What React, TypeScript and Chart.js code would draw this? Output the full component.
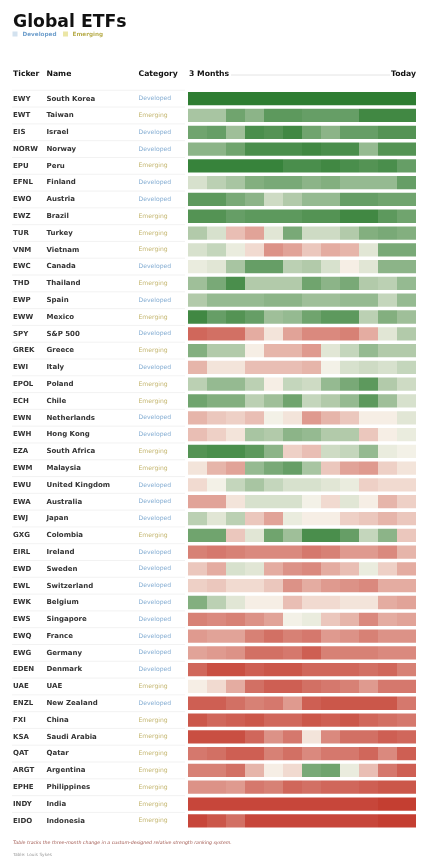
import React, { useEffect, useRef } from "react";
import { Chart, registerables } from "chart.js";

Chart.register(...registerables);

const tickers = ["EWY","EWT","EIS","NORW","EPU","EFNL","EWO","EWZ","TUR","VNM","EWC","THD","EWP","EWW","SPY","GREK","EWI","EPOL","ECH","EWN","EWH","EZA","EWM","EWU","EWA","EWJ","GXG","EIRL","EWD","EWL","EWK","EWS","EWQ","EWG","EDEN","UAE","ENZL","FXI","KSA","QAT","ARGT","EPHE","INDY","EIDO"];
const names = ["South Korea","Taiwan","Israel","Norway","Peru","Finland","Austria","Brazil","Turkey","Vietnam","Canada","Thailand","Spain","Mexico","S&P 500","Greece","Italy","Poland","Chile","Netherlands","Hong Kong","South Africa","Malaysia","United Kingdom","Australia","Japan","Colombia","Ireland","Sweden","Switzerland","Belgium","Singapore","France","Germany","Denmark","UAE","New Zealand","China","Saudi Arabia","Qatar","Argentina","Philippines","India","Indonesia"];
const categories = ["Developed","Emerging","Developed","Developed","Emerging","Developed","Developed","Emerging","Emerging","Emerging","Developed","Emerging","Developed","Emerging","Developed","Emerging","Developed","Emerging","Emerging","Developed","Developed","Emerging","Emerging","Developed","Developed","Developed","Emerging","Developed","Developed","Developed","Developed","Developed","Developed","Developed","Developed","Emerging","Developed","Emerging","Emerging","Emerging","Emerging","Emerging","Emerging","Emerging"];
const weeks = ["W1","W2","W3","W4","W5","W6","W7","W8","W9","W10","W11","W12"];

// relative strength rank (1 = strongest, 44 = weakest), 12 weekly readings per ETF
const ranks: number[][] = [
  [1,1,1,1,1,1,1,1,1,1,1,1],
  [14,14,8,11,6,6,7,7,7,3,3,3],
  [8,7,13,4,5,3,8,11,7,7,5,5],
  [11,11,8,4,4,4,3,4,4,12,5,5],
  [2,2,2,2,2,4,4,3,4,5,4,7],
  [19,16,14,10,9,9,11,10,12,12,12,7],
  [6,6,9,11,18,15,12,12,7,7,8,8],
  [5,5,7,6,6,6,5,5,3,3,6,8],
  [15,19,28,31,20,9,18,18,15,10,9,10],
  [19,17,21,25,33,31,27,30,29,20,9,9],
  [21,20,14,7,7,16,15,19,23,20,11,11],
  [13,9,4,15,15,15,8,11,9,15,16,12],
  [15,12,12,12,11,11,13,13,12,12,17,12],
  [3,7,5,7,13,12,8,6,6,16,10,13],
  [38,37,37,30,24,31,34,34,35,30,20,15],
  [10,15,15,23,29,29,32,20,17,12,15,15],
  [29,24,24,28,28,28,29,22,19,18,19,17],
  [16,12,12,16,23,17,18,12,9,6,15,18],
  [8,10,10,16,13,8,17,15,12,6,13,19],
  [29,27,26,28,22,24,32,29,27,23,23,20],
  [28,26,24,14,15,11,12,15,15,27,23,21],
  [5,4,4,6,11,26,28,18,17,12,21,22],
  [24,29,31,12,9,7,14,27,31,32,26,24],
  [25,22,17,14,17,19,19,20,21,26,25,25],
  [31,31,24,19,19,19,22,25,20,23,29,26],
  [16,20,16,27,31,21,23,23,26,27,29,27],
  [8,8,27,20,8,13,4,4,7,17,11,27],
  [35,36,35,34,34,34,36,35,32,32,34,29],
  [27,30,19,20,30,33,34,30,28,21,26,30],
  [26,27,25,25,27,33,30,32,33,34,30,30],
  [10,16,20,23,23,28,25,25,24,24,30,31],
  [35,34,35,33,31,22,21,27,29,34,30,31],
  [32,31,31,35,37,35,36,32,33,35,33,33],
  [31,32,33,37,37,36,39,35,35,35,34,34],
  [38,41,41,39,40,40,38,38,38,37,38,35],
  [23,25,30,37,39,39,37,36,35,32,36,36],
  [39,39,37,35,36,32,39,40,40,40,40,36],
  [40,38,39,40,38,38,40,39,40,38,37,36],
  [41,41,41,38,33,36,24,34,37,37,39,38],
  [36,37,39,39,35,37,34,36,36,38,34,39],
  [35,35,37,29,23,25,9,8,21,28,36,39],
  [33,33,32,36,35,38,37,38,38,39,40,40],
  [42,42,42,42,42,42,42,42,42,42,43,43],
  [42,40,37,42,42,42,42,42,42,42,43,43],
];

const GREEN = [46, 125, 50];
const MID = [248, 244, 235];
const RED = [194, 54, 41];

function rankColor(r: number): string {
  const t = (r - 1) / 43;
  let a: number[], b: number[], u: number;
  if (t <= 0.5) { a = GREEN; b = MID; u = t / 0.5; }
  else { a = MID; b = RED; u = Math.pow((t - 0.5) / 0.5, 0.92); }
  const c = a.map((v, i) => Math.round(v + (b[i] - v) * u));
  return `rgb(${c[0]},${c[1]},${c[2]})`;
}

const FONT = '"DejaVu Sans", sans-serif';

const tablePlugin = {
  id: "tableText",
  afterDraw(chart: any) {
    const ctx = chart.ctx as CanvasRenderingContext2D;
    const y = chart.scales.y;
    const area = chart.chartArea;
    ctx.save();
    // title
    ctx.fillStyle = "#111";
    ctx.textBaseline = "alphabetic";
    ctx.textAlign = "left";
    ctx.font = `bold 17.3px ${FONT}`;
    ctx.fillText("Global ETFs", 13, 26.5);
    // legend
    ctx.textBaseline = "middle";
    ctx.fillStyle = "#d3e2ef";
    ctx.fillRect(12.5, 31.5, 5, 5);
    ctx.font = `bold 5.7px ${FONT}`;
    ctx.fillStyle = "#6f9fcc";
    ctx.fillText("Developed", 22.5, 34.2);
    ctx.fillStyle = "#ebe6a6";
    ctx.fillRect(63, 31.5, 5, 5);
    ctx.fillStyle = "#b9ae4e";
    ctx.fillText("Emerging", 72.5, 34.2);
    // header
    ctx.fillStyle = "#111";
    ctx.font = `bold 7.7px ${FONT}`;
    ctx.fillText("Ticker", 13, 74.5);
    ctx.fillText("Name", 46.5, 74.5);
    ctx.fillText("Category", 138.5, 74.5);
    ctx.fillText("3 Months", 189, 74.5);
    ctx.textAlign = "right";
    ctx.fillText("Today", area.right, 74.5);
    ctx.strokeStyle = "#dddddd";
    ctx.lineWidth = 0.8;
    ctx.beginPath();
    ctx.moveTo(231, 75);
    ctx.lineTo(390, 75);
    ctx.stroke();
    // rows
    const pitch = tickers.length > 1 ? (y.getPixelForValue(1) - y.getPixelForValue(0)) : 16.8;
    ctx.textAlign = "left";
    ctx.strokeStyle = "#ececec";
    ctx.lineWidth = 0.7;
    tickers.forEach((t, i) => {
      const cy = y.getPixelForValue(i);
      const top = cy - pitch / 2;
      ctx.beginPath();
      ctx.moveTo(12, top);
      ctx.lineTo(185, top);
      ctx.stroke();
      ctx.fillStyle = "#333";
      ctx.font = `bold 7px ${FONT}`;
      ctx.fillText(t, 13, cy);
      ctx.fillText(names[i], 46.5, cy);
      ctx.font = `6.1px ${FONT}`;
      ctx.fillStyle = categories[i] === "Developed" ? "#86aed3" : "#c4b66f";
      ctx.fillText(categories[i], 138.5, cy);
    });
    // footnote
    ctx.textBaseline = "alphabetic";
    ctx.font = `italic 4.7px ${FONT}`;
    ctx.fillStyle = "#a0574f";
    ctx.fillText("Table tracks the three-month change in a custom-designed relative strength ranking system.", 13, 843.5);
    ctx.font = `4.3px ${FONT}`;
    ctx.fillStyle = "#9a9a9a";
    ctx.fillText("Table: Louis Sykes", 13, 855.5);
    ctx.restore();
  },
};

export default function App() {
  const ref = useRef<HTMLCanvasElement | null>(null);
  useEffect(() => {
    if (!ref.current) return;
    const datasets = weeks.map((w, j) => ({
      label: w,
      data: tickers.map(() => 1),
      backgroundColor: ranks.map((row) => rankColor(row[j])),
      borderWidth: 0,
      barPercentage: 0.79,
      categoryPercentage: 1,
      stack: "s",
    }));
    const chart = new Chart(ref.current, {
      type: "bar",
      data: { labels: tickers, datasets },
      options: {
        indexAxis: "y",
        animation: false,
        responsive: false,
        devicePixelRatio: 1,
        layout: { padding: { left: 188, right: 12, top: 90.3, bottom: 30.8 } },
        plugins: { legend: { display: false }, tooltip: { enabled: false }, title: { display: false } },
        scales: {
          x: { stacked: true, display: false, min: 0, max: weeks.length },
          y: { stacked: true, display: false },
        },
      },
      plugins: [tablePlugin],
    });
    return () => chart.destroy();
  }, []);
  return (
    <div style={{ position: "absolute", left: 0, top: 0, width: 428, height: 860, background: "#fff" }}>
      <canvas ref={ref} width={428} height={860} style={{ display: "block", width: 428, height: 860 }} />
    </div>
  );
}
